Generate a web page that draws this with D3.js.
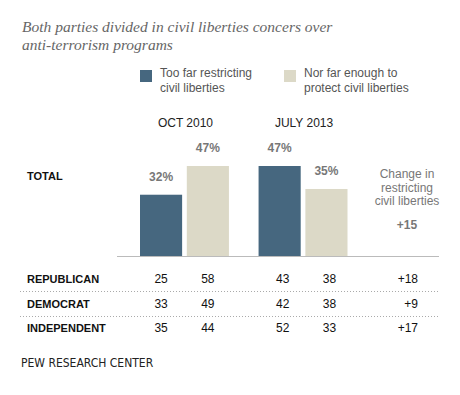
<!DOCTYPE html>
<head>
  <meta charset="UTF-8">
  <script src="https://d3js.org/d3.v7.min.js"></script>
  <title>Civil liberties concerns</title>
  <style>
    body { margin: 0; background: #fff; }
    text { font-family: "Liberation Sans", Arial, sans-serif; }
  </style>
</head>
<body>
  <svg id="chart"></svg>
    <script>

        var width = 460;
        var height = 395;

        // data
        var periods = ["OCT 2010", "JULY 2013"];
        var seriesNames = ["Too far restricting|civil liberties", "Nor far enough to|protect civil liberties"];
        var totalTooFar = [32, 47];
        var totalNotEnough = [47, 35];
        var totalChange = "+15";
        var groups = ["REPUBLICAN", "DEMOCRAT", "INDEPENDENT"];
        var tooFar2010 = [25, 33, 35];
        var notEnough2010 = [58, 49, 44];
        var tooFar2013 = [43, 42, 52];
        var notEnough2013 = [38, 38, 33];
        var groupChange = ["+18", "+9", "+17"];

        var colors = ["#46677f", "#dcd9c7"];

        var svg = d3.select("#chart")
            .attr("width", width)
            .attr("height", height);

        // title
        var title = svg.append("text")
            .attr("x", 22)
            .attr("y", 32)
            .attr("fill", "#666")
            .style("font-family", "'Liberation Serif', Georgia, serif")
            .style("font-style", "italic")
            .style("font-size", "15.5px");
        title.append("tspan").attr("x", 22).attr("y", 32).text("Both parties divided in civil liberties concers over");
        title.append("tspan").attr("x", 22).attr("y", 50).text("anti-terrorism programs");

        // legend
        var legendX = [140, 284];
        seriesNames.forEach(function(name, i) {
            svg.append("rect")
                .attr("x", legendX[i]).attr("y", 70)
                .attr("width", 12).attr("height", 12)
                .attr("fill", colors[i]);
            var t = svg.append("text")
                .attr("fill", "#555")
                .style("font-size", "12px");
            name.split("|").forEach(function(line, j) {
                t.append("tspan")
                    .attr("x", legendX[i] + 20)
                    .attr("y", 77 + j * 14.5)
                    .text(line);
            });
        });

        // scales
        var x0 = d3.scaleBand()
            .domain(periods)
            .range([140, 347.5])
            .paddingInner(0.25)
            .paddingOuter(0);

        var x1 = d3.scaleBand()
            .domain([0, 1])
            .range([0, x0.bandwidth()])
            .paddingInner(0.1);

        var baseline = 256;
        var y = d3.scaleLinear()
            .domain([0, 47])
            .range([baseline, 166]);

        var bars = [];
        periods.forEach(function(p, i) {
            bars.push({period: p, s: 0, value: totalTooFar[i]});
            bars.push({period: p, s: 1, value: totalNotEnough[i]});
        });

        svg.selectAll(".period")
            .data(periods)
            .enter().append("text")
            .attr("x", function(d) { return x0(d) + x0.bandwidth() / 2 + 1; })
            .attr("y", 127)
            .attr("text-anchor", "middle")
            .attr("fill", "#222")
            .style("font-size", "12px")
            .text(function(d) { return d; });

        svg.append("text")
            .attr("x", 27).attr("y", 180)
            .attr("fill", "#111")
            .style("font-size", "11px")
            .style("font-weight", "bold")
            .text("TOTAL");

        svg.selectAll("rect.bar")
            .data(bars)
            .enter().append("rect")
            .attr("class", "bar")
            .attr("x", function(d) { return x0(d.period) + x1(d.s); })
            .attr("y", function(d) { return y(d.value); })
            .attr("width", x1.bandwidth())
            .attr("height", function(d) { return baseline - y(d.value); })
            .attr("fill", function(d) { return colors[d.s]; });

        svg.selectAll("text.val")
            .data(bars)
            .enter().append("text")
            .attr("class", "val")
            .attr("x", function(d) { return x0(d.period) + x1(d.s) + x1.bandwidth() / 2; })
            .attr("y", function(d) { return y(d.value) - 14; })
            .attr("text-anchor", "middle")
            .attr("fill", "#777")
            .style("font-size", "12px")
            .style("font-weight", "bold")
            .text(function(d) { return d.value + "%"; });

        svg.append("line")
            .attr("x1", 117).attr("x2", 439)
            .attr("y1", baseline + 0.5).attr("y2", baseline + 0.5)
            .attr("stroke", "#bbb");

        // change column
        var changeLines = ["Change in", "restricting", "civil liberties"];
        changeLines.forEach(function(line, i) {
            svg.append("text")
                .attr("x", 407).attr("y", 178 + i * 13.5)
                .attr("text-anchor", "middle")
                .attr("fill", "#777")
                .style("font-size", "12px")
                .text(line);
        });
        svg.append("text")
            .attr("x", 407).attr("y", 229)
            .attr("text-anchor", "middle")
            .attr("fill", "#777")
            .style("font-size", "12px")
            .style("font-weight", "bold")
            .text(totalChange);

        // table rows
        var rowY = d3.scalePoint()
            .domain(groups)
            .range([283, 332]);

        var cols = [
            {period: periods[0], s: 0, values: tooFar2010},
            {period: periods[0], s: 1, values: notEnough2010},
            {period: periods[1], s: 0, values: tooFar2013},
            {period: periods[1], s: 1, values: notEnough2013}
        ];

        groups.forEach(function(g, i) {
            svg.append("text")
                .attr("x", 27).attr("y", rowY(g))
                .attr("fill", "#111")
                .style("font-size", "11px")
                .style("font-weight", "bold")
                .text(g);
            cols.forEach(function(c) {
                svg.append("text")
                    .attr("x", x0(c.period) + x1(c.s) + x1.bandwidth() / 2 + (c.period === periods[1] ? 3 : 0))
                    .attr("y", rowY(g))
                    .attr("text-anchor", "middle")
                    .attr("fill", "#111")
                    .style("font-size", "12px")
                    .text(c.values[i]);
            });
            svg.append("text")
                .attr("x", 418).attr("y", rowY(g))
                .attr("text-anchor", "end")
                .attr("fill", "#111")
                .style("font-size", "12px")
                .text(groupChange[i]);
            if (i < groups.length - 1) {
                var ly = Math.round(rowY(g) + 8) + 0.5;
                svg.append("line")
                    .attr("x1", 20).attr("x2", 439)
                    .attr("y1", ly).attr("y2", ly)
                    .attr("stroke", "#aaa")
                    .attr("stroke-dasharray", "1,2");
            }
        });

        svg.append("text")
            .attr("x", 21).attr("y", 367)
            .attr("fill", "#222")
            .style("font-family", "'Liberation Sans Narrow', 'DejaVu Sans Condensed', sans-serif")
            .style("font-size", "12px")
            .text("PEW RESEARCH CENTER");

    </script>
    </body>
</html>
